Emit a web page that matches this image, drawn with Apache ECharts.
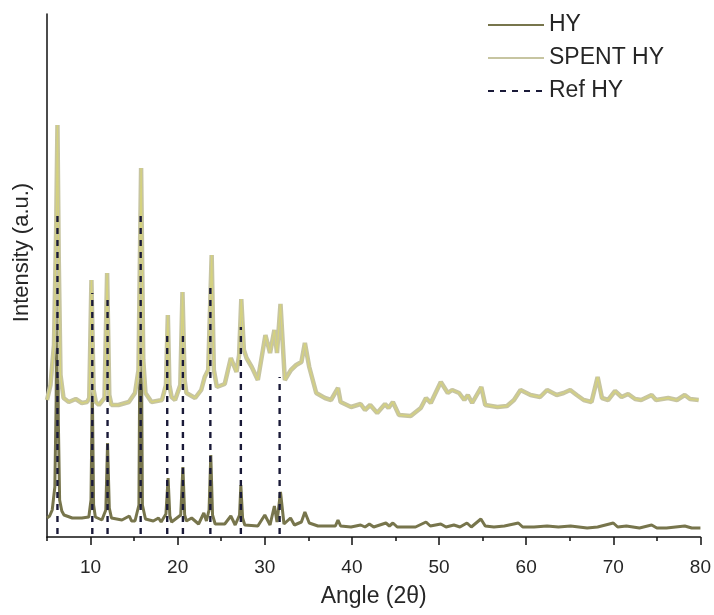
<!DOCTYPE html>
<html>
<head>
<meta charset="utf-8">
<title>XRD HY / SPENT HY</title>
<script src="https://cdn.jsdelivr.net/npm/echarts@6/dist/echarts.min.js"></script>
<style>
  html, body { margin: 0; padding: 0; background: #ffffff; }
  #chart { width: 714px; height: 615px; }
</style>
</head>
<body>
<div id="chart"></div>
<script>
// Diffraction angle (2θ) / intensity pairs for the fresh catalyst
const hyPattern = [
  [5.0, 19], [5.3, 21], [5.6, 27], [5.9, 50], [6.05, 137], [6.2, 347], [6.3, 117], [6.45, 37],
  [6.7, 26], [6.95, 22], [7.9, 19], [9.0, 19], [9.8, 20], [10.05, 37], [10.2, 152], [10.35, 32],
  [10.55, 20], [11.3, 17], [11.75, 27], [11.95, 94], [12.15, 29], [12.4, 19], [13.6, 17],
  [14.45, 21], [14.7, 16], [15.1, 16], [15.55, 32], [15.75, 330], [15.95, 32], [16.3, 18],
  [17.2, 16], [17.8, 19], [18.1, 15], [18.65, 23], [18.9, 59], [19.1, 21], [19.3, 15],
  [20.35, 22], [20.6, 70], [20.8, 22], [21.0, 16], [21.6, 19], [22.4, 13], [23.0, 24],
  [23.3, 16], [23.6, 27], [23.8, 82], [24.0, 22], [24.3, 13], [25.4, 13], [26.1, 21],
  [26.6, 12], [27.1, 22], [27.25, 52], [27.45, 19], [27.7, 12], [29.2, 11], [30.0, 22],
  [30.6, 12], [31.1, 31], [31.4, 15], [31.8, 45], [32.2, 13], [32.95, 19], [33.4, 12],
  [34.2, 15], [34.6, 25], [35.1, 14], [36.1, 11], [38.1, 11], [38.4, 17], [38.7, 11],
  [39.9, 10], [41.0, 12], [41.5, 10], [42.0, 13], [42.5, 10], [43.9, 14], [44.3, 11],
  [44.7, 14], [45.2, 10], [46.0, 10], [47.3, 10], [48.5, 15], [49.0, 11], [50.2, 13],
  [50.8, 10], [51.7, 12], [52.4, 10], [53.2, 14], [53.7, 10], [54.8, 18], [55.3, 11],
  [56.3, 10], [57.5, 11], [59.1, 14], [59.6, 10], [60.9, 10], [62.4, 11], [63.7, 10],
  [65.1, 11], [67.0, 9], [68.2, 10], [70.0, 14], [70.5, 10], [71.5, 11], [73.0, 9],
  [74.4, 12], [75.0, 9], [76.1, 9], [78.2, 11], [79.0, 9], [80.0, 9]
];

// Diffraction angle (2θ) / intensity pairs for the spent catalyst (offset upwards)
const spentPattern = [
  [5.0, 137], [5.4, 152], [5.8, 192], [6.05, 307], [6.2, 412], [6.35, 277], [6.55, 162],
  [6.9, 139], [7.5, 135], [8.3, 138], [9.0, 134], [9.6, 135], [9.85, 139], [10.1, 257],
  [10.35, 147], [10.6, 135], [10.95, 132], [11.6, 139], [11.9, 264], [12.15, 142], [12.4, 132],
  [13.2, 132], [14.4, 135], [15.1, 144], [15.5, 167], [15.8, 369], [16.05, 177], [16.3, 144],
  [17.0, 135], [18.2, 137], [18.65, 152], [18.87, 222], [19.05, 152], [19.3, 140], [19.7, 137],
  [20.3, 152], [20.55, 245], [20.8, 157], [21.0, 144], [21.4, 142], [22.0, 139], [22.7, 147],
  [23.1, 160], [23.5, 167], [23.9, 282], [24.15, 167], [24.5, 150], [25.4, 153], [26.1, 179],
  [26.75, 165], [27.05, 182], [27.3, 238], [27.6, 187], [27.9, 179], [28.5, 170], [29.2, 157],
  [30.07, 202], [30.6, 184], [31.1, 207], [31.4, 184], [31.8, 233], [32.3, 157], [33.0, 167],
  [33.6, 172], [34.2, 175], [34.6, 194], [35.1, 170], [35.5, 157], [35.9, 144], [36.9, 139],
  [37.6, 137], [38.4, 149], [38.7, 135], [39.9, 130], [41.0, 133], [41.5, 127], [42.1, 132],
  [42.9, 124], [43.8, 133], [44.2, 129], [44.7, 135], [45.4, 122], [46.75, 121], [47.9, 129],
  [48.5, 139], [49.05, 134], [50.2, 155], [51.0, 144], [51.5, 147], [52.3, 144], [52.9, 137],
  [53.3, 142], [53.8, 134], [54.85, 150], [55.3, 132], [56.7, 130], [57.8, 131], [58.6, 137],
  [59.35, 147], [60.5, 142], [61.6, 140], [62.4, 147], [63.5, 142], [64.3, 144], [65.05, 147],
  [65.8, 142], [66.6, 137], [67.5, 135], [68.2, 160], [68.7, 139], [69.4, 137], [70.2, 146],
  [70.95, 140], [71.7, 143], [72.5, 138], [73.2, 137], [74.4, 142], [74.9, 137], [76.3, 139],
  [77.3, 137], [78.2, 142], [78.8, 138], [79.8, 137]
];

// Reference reflections: position (2θ) and stick height
const refAngles = [6.2, 10.2, 11.95, 15.75, 18.8, 20.6, 23.75, 27.25, 31.7];
const refHeights = [322, 244, 242, 322, 202, 202, 249, 210, 160];
const refBase = 3;

const seriesNames = ['HY', 'SPENT HY', 'Ref HY'];
const majorTicks = [10, 20, 30, 40, 50, 60, 70, 80];
const minorTicks = [5, 15, 25, 35, 45, 55, 65, 75];

// Each reference reflection becomes one vertical stick; '-' breaks the line between sticks
const refSticks = [];
refAngles.forEach((a, i) => {
  refSticks.push([a, refBase], [a, refHeights[i]], [a, '-']);
});

const FONT = '"Liberation Sans", Arial, sans-serif';
const TEXT = '#262626';
const chart = echarts.init(document.getElementById('chart'), null, { renderer: 'canvas' });

chart.setOption({
  animation: false,
  backgroundColor: '#ffffff',
  grid: { left: 47, right: 10, top: 14, bottom: 78, containLabel: false },
  legend: {
    data: seriesNames,
    orient: 'vertical',
    left: 482,
    top: 8,
    itemWidth: 56,
    itemHeight: 14,
    itemGap: 9,
    itemStyle: { opacity: 0 },
    textStyle: { fontFamily: FONT, fontSize: 23, color: TEXT, lineHeight: 24 }
  },
  xAxis: [
    {
      type: 'value', min: 5, max: 80,
      name: 'Angle (2θ)', nameLocation: 'middle', nameGap: 48,
      nameTextStyle: { fontFamily: FONT, fontSize: 23, color: TEXT },
      axisLine: { show: true, onZero: false, lineStyle: { color: '#111111', width: 1.5 } },
      axisTick: { show: true, customValues: majorTicks, length: 8, lineStyle: { color: '#111111', width: 1.5 } },
      axisLabel: { show: true, customValues: majorTicks, margin: 21, fontFamily: FONT, fontSize: 19, color: TEXT },
      splitLine: { show: false }
    },
    {
      type: 'value', min: 5, max: 80, position: 'bottom',
      axisLine: { show: false, onZero: false },
      axisTick: { show: true, customValues: minorTicks, length: 4, lineStyle: { color: '#111111', width: 1.5 } },
      axisLabel: { show: false },
      splitLine: { show: false }
    }
  ],
  yAxis: {
    type: 'value', min: 0, max: 523,
    name: 'Intensity (a.u.)', nameLocation: 'middle', nameGap: 14, nameRotate: 90,
    nameTextStyle: { fontFamily: FONT, fontSize: 22, color: TEXT, padding: [0, 0, 0, 46] },
    axisLine: { show: true, onZero: false, lineStyle: { color: '#111111', width: 1.5 } },
    axisTick: { show: false },
    axisLabel: { show: false },
    splitLine: { show: false }
  },
  series: [
    {
      name: 'HY', type: 'line', data: hyPattern, showSymbol: false, symbol: 'none',
      lineStyle: { color: '#77754c', width: 3 }, itemStyle: { color: '#77754c' }, z: 2
    },
    {
      name: 'SPENT HY', type: 'line', data: spentPattern, showSymbol: false, symbol: 'none',
      lineStyle: { color: '#c7c5a1', width: 4.5 }, itemStyle: { color: '#c7c5a1' }, z: 3
    },
    {
      name: 'SPENT HY', type: 'line', data: spentPattern, showSymbol: false, symbol: 'none',
      lineStyle: { color: '#dedb66', width: 1.3, opacity: 0.6 }, itemStyle: { color: '#dedb66' }, z: 4
    },
    {
      name: 'Ref HY', type: 'line', data: refSticks, showSymbol: false, symbol: 'none',
      connectNulls: false,
      lineStyle: { color: '#1a1a38', width: 2.4, type: [6, 6] }, itemStyle: { color: '#1a1a38' }, z: 5
    }
  ]
});
</script>
</body>
</html>
